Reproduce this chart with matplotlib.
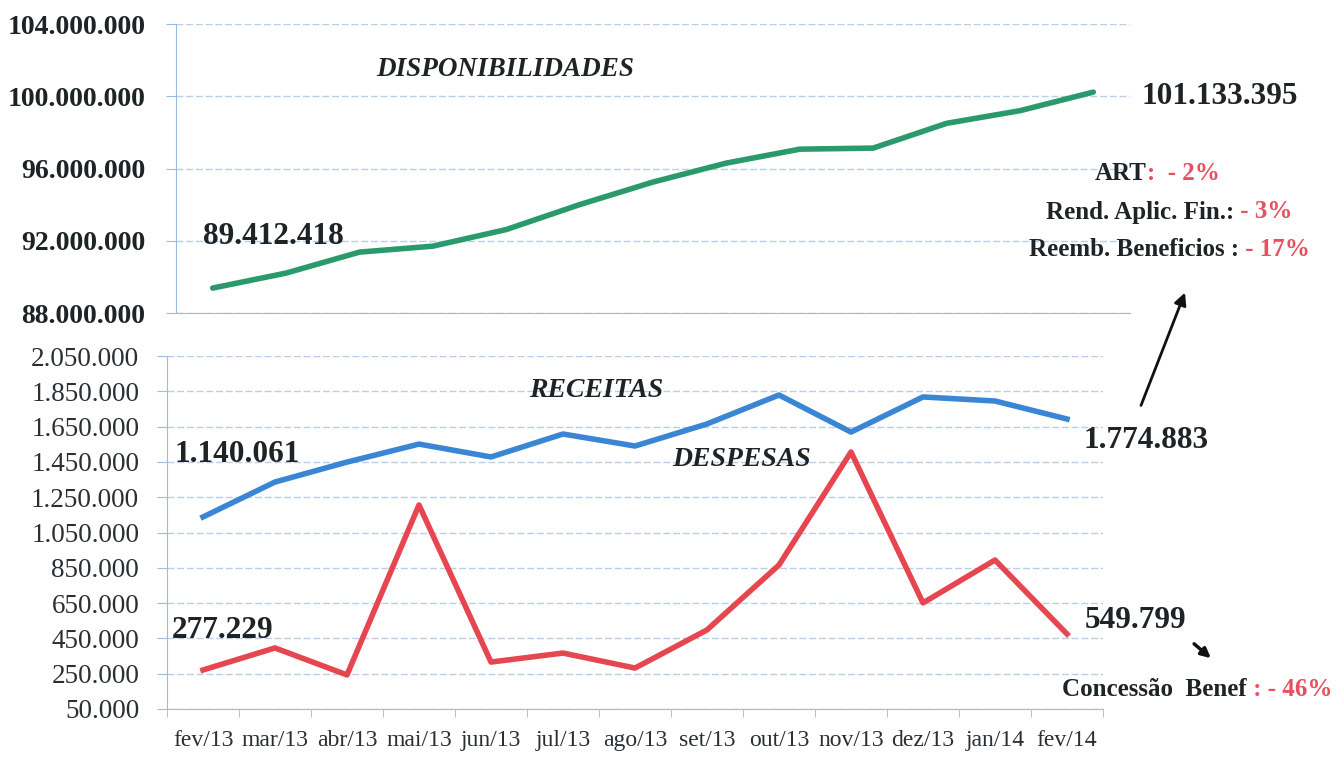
import numpy as np
import matplotlib.pyplot as plt
from matplotlib.ticker import FuncFormatter, MultipleLocator

# --- data ---
months = ['fev/13', 'mar/13', 'abr/13', 'mai/13', 'jun/13', 'jul/13', 'ago/13',
          'set/13', 'out/13', 'nov/13', 'dez/13', 'jan/14', 'fev/14']
disponibilidades = [89.38, 90.21, 91.37, 91.70, 92.62, 94.00, 95.25,
                    96.30, 97.07, 97.13, 98.50, 99.20, 100.23]  # milhoes
receitas = [1138000, 1336000, 1449000, 1551000, 1478000, 1608000, 1540000,
            1665000, 1829000, 1619000, 1818000, 1795000, 1693000]
despesas = [271000, 396000, 243000, 1206000, 316000, 367000, 282000,
            498000, 866000, 1506000, 651000, 894000, 475000]

W, H = 1340, 760
plt.rcParams['font.family'] = ['Liberation Serif', 'DejaVu Serif']

dark = '#1e2326'
red_txt = '#e8505f'
grid_c = '#b9cfe6'
spine_c = '#9dbbdc'


def fx(x):
    return x / W


def fy(y):
    return 1 - y / H


def br(v, pos=None):
    return f'{v:,.0f}'.replace(',', '.')


fig = plt.figure(figsize=(W / 100, H / 100), dpi=100)

# ---------- top panel ----------
ax1 = fig.add_axes([fx(176), fy(313), fx(1130 - 176), (313 - 24) / H])
x = np.arange(len(months))
ax1.plot(x, np.array(disponibilidades) * 1e6, color='#2a9a6c', lw=4,
         solid_capstyle='round', solid_joinstyle='round')
ax1.set_xlim(-0.5, 12.5)
ax1.set_ylim(88e6, 104e6)
ax1.yaxis.set_major_locator(MultipleLocator(4e6))
ax1.yaxis.set_major_formatter(FuncFormatter(br))
ax1.set_xticks([])
for s in ['top', 'right']:
    ax1.spines[s].set_visible(False)
ax1.spines['left'].set_color(spine_c)
ax1.spines['bottom'].set_color(spine_c)
ax1.grid(axis='y', color=grid_c, lw=1, ls=(0, (5, 2)))
ax1.tick_params(axis='y', length=7, color=spine_c, pad=15, labelsize=20,
                labelcolor=dark)
for t in ax1.get_yticklabels():
    t.set_fontweight('bold')
ax1.set_axisbelow(True)

# ---------- bottom panel ----------
ax2 = fig.add_axes([fx(167), fy(709), fx(1103 - 167), (709 - 356) / H])
ax2.plot(x, receitas, color='#3b86d4', lw=4, solid_joinstyle='round')
ax2.plot(x, despesas, color='#e5464f', lw=4, solid_joinstyle='round')
ax2.set_xlim(-0.5, 12.5)
ax2.set_ylim(50000, 2050000)
ax2.set_yticks(np.arange(50000, 2050001, 200000))
ax2.yaxis.set_major_formatter(FuncFormatter(br))
ax2.set_xticks(x)
ax2.set_xticklabels(months)
ax2.set_xticks(np.arange(-0.5, 13, 1), minor=True)
for s in ['top', 'right']:
    ax2.spines[s].set_visible(False)
ax2.spines['left'].set_color(spine_c)
ax2.spines['bottom'].set_color(spine_c)
ax2.grid(axis='y', color=grid_c, lw=1, ls=(0, (5, 2)))
ax2.tick_params(axis='y', length=7, color=spine_c, pad=13, labelsize=19.5,
                labelcolor='#2a2f33')
ax2.tick_params(axis='x', which='major', length=0, pad=15, labelsize=17,
                labelcolor='#2a2f33')
ax2.tick_params(axis='x', which='minor', length=6, color=spine_c)
ax2.set_axisbelow(True)

# ---------- texts ----------
bi = dict(fontweight='bold', fontstyle='italic', color=dark)
fig.text(fx(505), fy(70), 'DISPONIBILIDADES', fontsize=19.5, ha='center', va='center', **bi)
fig.text(fx(596), fy(390), 'RECEITAS', fontsize=20, ha='center', va='center', **bi)
fig.text(fx(742), fy(459), 'DESPESAS', fontsize=20, ha='center', va='center', **bi)

b = dict(fontweight='bold', color=dark, va='center')
fig.text(fx(203), fy(237), '89.412.418', fontsize=22.5, ha='left', **b)
fig.text(fx(1142), fy(97), '101.133.395', fontsize=22.5, ha='left', **b)
fig.text(fx(175), fy(455), '1.140.061', fontsize=22.5, ha='left', **b)
fig.text(fx(172), fy(630), '277.229', fontsize=22.5, ha='left', **b)
fig.text(fx(1083), fy(440), '1.774.883', fontsize=22.5, ha='left', **b)
fig.text(fx(1085), fy(620), '549.799', fontsize=22.5, ha='left', **b)

notes = [('ART', ':  - 2%', 1147, 174),
         ('Rend. Aplic. Fin.:', ' - 3%', 1234, 212),
         ('Reemb. Beneficios :', ' - 17%', 1239, 250),
         ('Concessão  Benef', ' : - 46%', 1247, 690)]
for txt, pct, xs, yy in notes:
    fig.text(fx(xs), fy(yy), txt, fontsize=18, ha='right', fontweight='bold',
             color=dark, va='center')
    fig.text(fx(xs), fy(yy), pct, fontsize=18, ha='left', fontweight='bold',
             color=red_txt, va='center')

ax2.annotate('', xy=(fx(1186), fy(290)), xycoords='figure fraction',
             xytext=(fx(1140), fy(408)), textcoords='figure fraction',
             arrowprops=dict(arrowstyle='-|>', color='#111111', lw=2,
                             mutation_scale=18), annotation_clip=False)
ax2.annotate('', xy=(fx(1213), fy(660)), xycoords='figure fraction',
             xytext=(fx(1192), fy(642)), textcoords='figure fraction',
             arrowprops=dict(arrowstyle='-|>', color='#111111', lw=2.5,
                             mutation_scale=14), annotation_clip=False)

fig.savefig('out.png', dpi=100)
